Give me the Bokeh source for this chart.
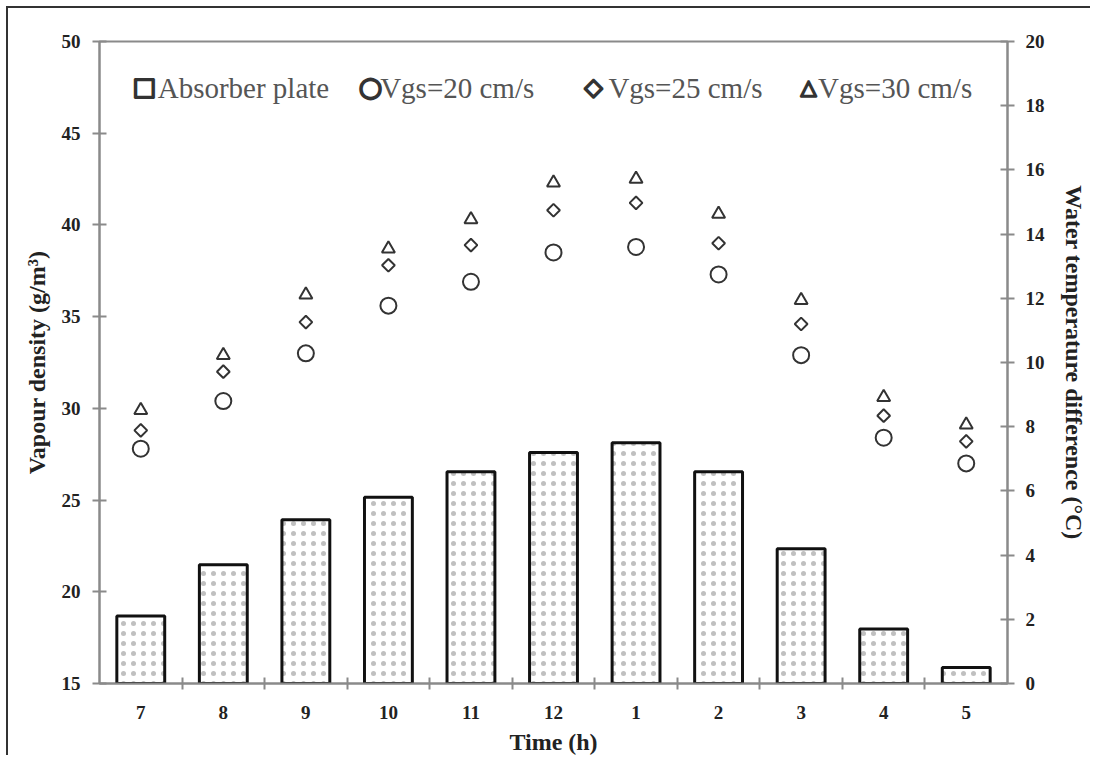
from bokeh.plotting import figure
from bokeh.models import Range1d, LinearAxis, FixedTicker, ColumnDataSource, Label
from bokeh.embed import file_html
from bokeh.resources import INLINE
import numpy as np

times = ["7", "8", "9", "10", "11", "12", "1", "2", "3", "4", "5"]
absorber_plate = [2.1, 3.7, 5.1, 5.8, 6.6, 7.2, 7.5, 6.6, 4.2, 1.7, 0.5]
vgs20 = [27.8, 30.4, 33.0, 35.6, 36.9, 38.5, 38.8, 37.3, 32.9, 28.4, 27.0]
vgs25 = [28.8, 32.0, 34.7, 37.8, 38.9, 40.8, 41.2, 39.0, 34.6, 29.6, 28.2]
vgs30 = [29.9, 32.9, 36.2, 38.7, 40.3, 42.3, 42.5, 40.6, 35.9, 30.6, 29.1]
series_labels = ["Absorber plate", "Vgs=20 cm/s", "Vgs=25 cm/s", "Vgs=30 cm/s"]
legend_symbols = ["□", "○", "◇", "△"]

xs = list(range(len(times)))
src = ColumnDataSource(dict(x=xs, bar=absorber_plate, v20=vgs20, v25=vgs25, v30=vgs30))

SERIF = "Liberation Serif"
DARK = "#222222"
AX = "#8a8a8a"

p = figure(width=1084, height=749, output_backend="svg", toolbar_location=None,
           x_range=Range1d(-0.5, len(times) - 0.5), y_range=Range1d(15, 50),
           min_border_left=91, min_border_right=85, min_border_top=33, min_border_bottom=74)
p.styles = {"margin-left": "6px", "margin-top": "6px",
            "border-left": "2px solid #333", "border-top": "2px solid #333"}
p.extra_y_ranges = {"right": Range1d(0, 20)}
p.xgrid.visible = False
p.ygrid.visible = False
p.outline_line_color = AX
p.outline_line_width = 2
p.background_fill_color = "white"
p.border_fill_color = "white"

bars = p.vbar(x="x", top="bar", bottom=0, width=0.58, source=src, y_range_name="right",
              fill_color="white", line_color="#111111", line_width=3,
              hatch_pattern="dot", hatch_scale=10, hatch_color="#c0c0c0", hatch_weight=0.9)

c20 = p.scatter(x="x", y="v20", source=src, marker="circle", size=16,
                fill_color=None, line_color="#333333", line_width=2)
c25 = p.scatter(x="x", y="v25", source=src, marker="square", size=9, angle=np.pi / 4,
                fill_color=None, line_color="#333333", line_width=2)
c30 = p.scatter(x="x", y="v30", source=src, marker="triangle", size=13,
                fill_color=None, line_color="#333333", line_width=2)

# x axis
xa = p.xaxis[0]
xa.ticker = FixedTicker(ticks=xs, minor_ticks=[i + 0.5 for i in xs[:-1]])
xa.major_label_overrides = {i: t for i, t in zip(xs, times)}
xa.major_tick_in = 0
xa.major_tick_out = 0
xa.minor_tick_in = 6
xa.minor_tick_out = 6
xa.minor_tick_line_color = AX
xa.minor_tick_line_width = 2
xa.axis_line_color = AX
xa.axis_line_width = 2
xa.major_label_standoff = 16
xa.axis_label = "Time (h)"
xa.axis_label_standoff = 7

# left axis
ya = p.yaxis[0]
ya.ticker = FixedTicker(ticks=list(range(15, 51, 5)))
ya.major_tick_in = 7
ya.major_tick_out = 7
ya.minor_tick_line_color = None
ya.major_tick_line_color = AX
ya.major_tick_line_width = 2
ya.axis_line_color = AX
ya.axis_line_width = 2
ya.major_label_standoff = 12
ya.axis_label = "Vapour density (g/m³)"
ya.axis_label_standoff = 9

# right axis
ra = LinearAxis(y_range_name="right", ticker=FixedTicker(ticks=list(range(0, 21, 2))))
ra.major_tick_in = 7
ra.major_tick_out = 7
ra.minor_tick_line_color = None
ra.major_tick_line_color = AX
ra.major_tick_line_width = 2
ra.axis_line_color = AX
ra.axis_line_width = 2
ra.major_label_standoff = 11
ra.axis_label = "Water temperature difference (°C)"
ra.axis_label_standoff = 13
p.add_layout(ra, "right")

for a in (xa, ya, ra):
    a.major_label_text_font = SERIF
    a.major_label_text_font_style = "bold"
    a.major_label_text_font_size = "19px"
    a.major_label_text_color = DARK
    a.axis_label_text_font = SERIF
    a.axis_label_text_font_style = "bold"
    a.axis_label_text_font_size = "24px"
    a.axis_label_text_color = DARK

# legend row (symbol + label), placed inside the top of the frame
sym_x = [0.045, 2.783, 5.484, 8.089]
txt_x = [0.205, 2.90, 5.665, 8.205]
sym_size = ["25px", "27px", "24px", "21px"]
sym_outline = ["#333333", "#333333", "#333333", "#333333"]
leg_y = 47.44
for sx, tx, sym, lab, ss, so in zip(sym_x, txt_x, legend_symbols, series_labels, sym_size, sym_outline):
    p.add_layout(Label(x=sx, y=leg_y + 0.1, text=sym, text_align="center", text_baseline="middle",
                       text_font="DejaVu Sans", text_font_size=ss,
                       text_color="#333333", text_outline_color=so))
    p.add_layout(Label(x=tx, y=leg_y + 0.05, text=lab, text_align="left",
                       text_baseline="alphabetic", text_font=SERIF,
                       text_font_size="29px", text_color="#555555"))

open("out.html", "w").write(file_html(p, INLINE))
